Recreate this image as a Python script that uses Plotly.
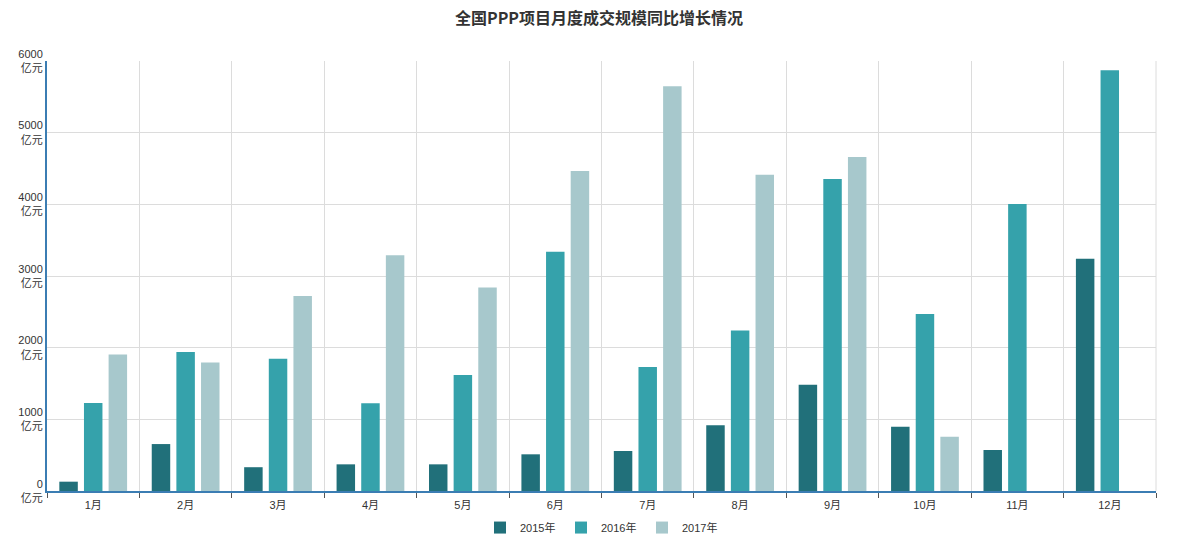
import plotly.graph_objects as go

months = ["1月", "2月", "3月", "4月", "5月", "6月", "7月", "8月", "9月", "10月", "11月", "12月"]
y2015 = [130, 655, 332, 372, 372, 512, 558, 916, 1483, 897, 572, 3240]
y2016 = [1227, 1941, 1844, 1223, 1618, 3338, 1730, 2241, 4352, 2469, 4005, 5872]
y2017 = [1905, 1794, 2720, 3291, 2841, 4464, 5649, 4412, 4659, 758, None, None]
series_names = ["2015年", "2016年", "2017年"]
colors = ["#21707a", "#35a2ab", "#a7c8cc"]
ytick_vals = [0, 1000, 2000, 3000, 4000, 5000, 6000]
ytick_text = [f"{v}<br>亿元" for v in ytick_vals]

font_family = "Liberation Sans, Noto Sans CJK SC, Arial, sans-serif"

fig = go.Figure()
for name, vals, c in zip(series_names, [y2015, y2016, y2017], colors):
    fig.add_trace(go.Bar(x=months, y=vals, name=name, marker=dict(color=c, line=dict(width=0))))

fig.update_layout(
    width=1198, height=535,
    paper_bgcolor="white", plot_bgcolor="white",
    margin=dict(l=47, r=42, t=61, b=44, autoexpand=False),
    barmode="group", bargap=0.2, bargroupgap=0.25,
    font=dict(family=font_family, size=11, color="#333"),
    title=dict(text="<b>全国PPP项目月度成交规模同比增长情况</b>", x=0.5, xanchor="center",
               y=0.965, yanchor="middle",
               font=dict(family="Noto Sans CJK SC, sans-serif", size=16, color="#333")),
    legend=dict(orientation="h", x=0.5, xanchor="center", y=-0.085, yanchor="middle",
                font=dict(size=11, color="#333"), itemwidth=30, traceorder="normal",
                entrywidth=36, entrywidthmode="pixels"),
    showlegend=True,
)
fig.update_xaxes(
    tickson="boundaries", showgrid=True, gridcolor="#dcdcdc", gridwidth=1,
    showline=True, linecolor="#3b7db3", linewidth=2,
    ticks="outside", ticklen=5, tickcolor="#555", tickfont=dict(size=11, color="#333"),
    ticklabelstandoff=3,
    range=[-0.5, 11.5], automargin=False,
)
fig.update_yaxes(
    range=[0, 6000], tickvals=ytick_vals, ticktext=ytick_text,
    showgrid=True, gridcolor="#dcdcdc", gridwidth=1,
    showline=True, linecolor="#3b7db3", linewidth=2,
    zeroline=False, ticks="", tickfont=dict(size=11, color="#333"),
    automargin=False,
)
fig.add_shape(type="line", xref="paper", yref="paper", x0=1, x1=1, y0=0, y1=1,
              line=dict(color="#dcdcdc", width=1))
fig.write_html("out.html", config={"displayModeBar": False},
               post_script="document.body.style.margin='0';document.body.style.overflow='hidden';")
